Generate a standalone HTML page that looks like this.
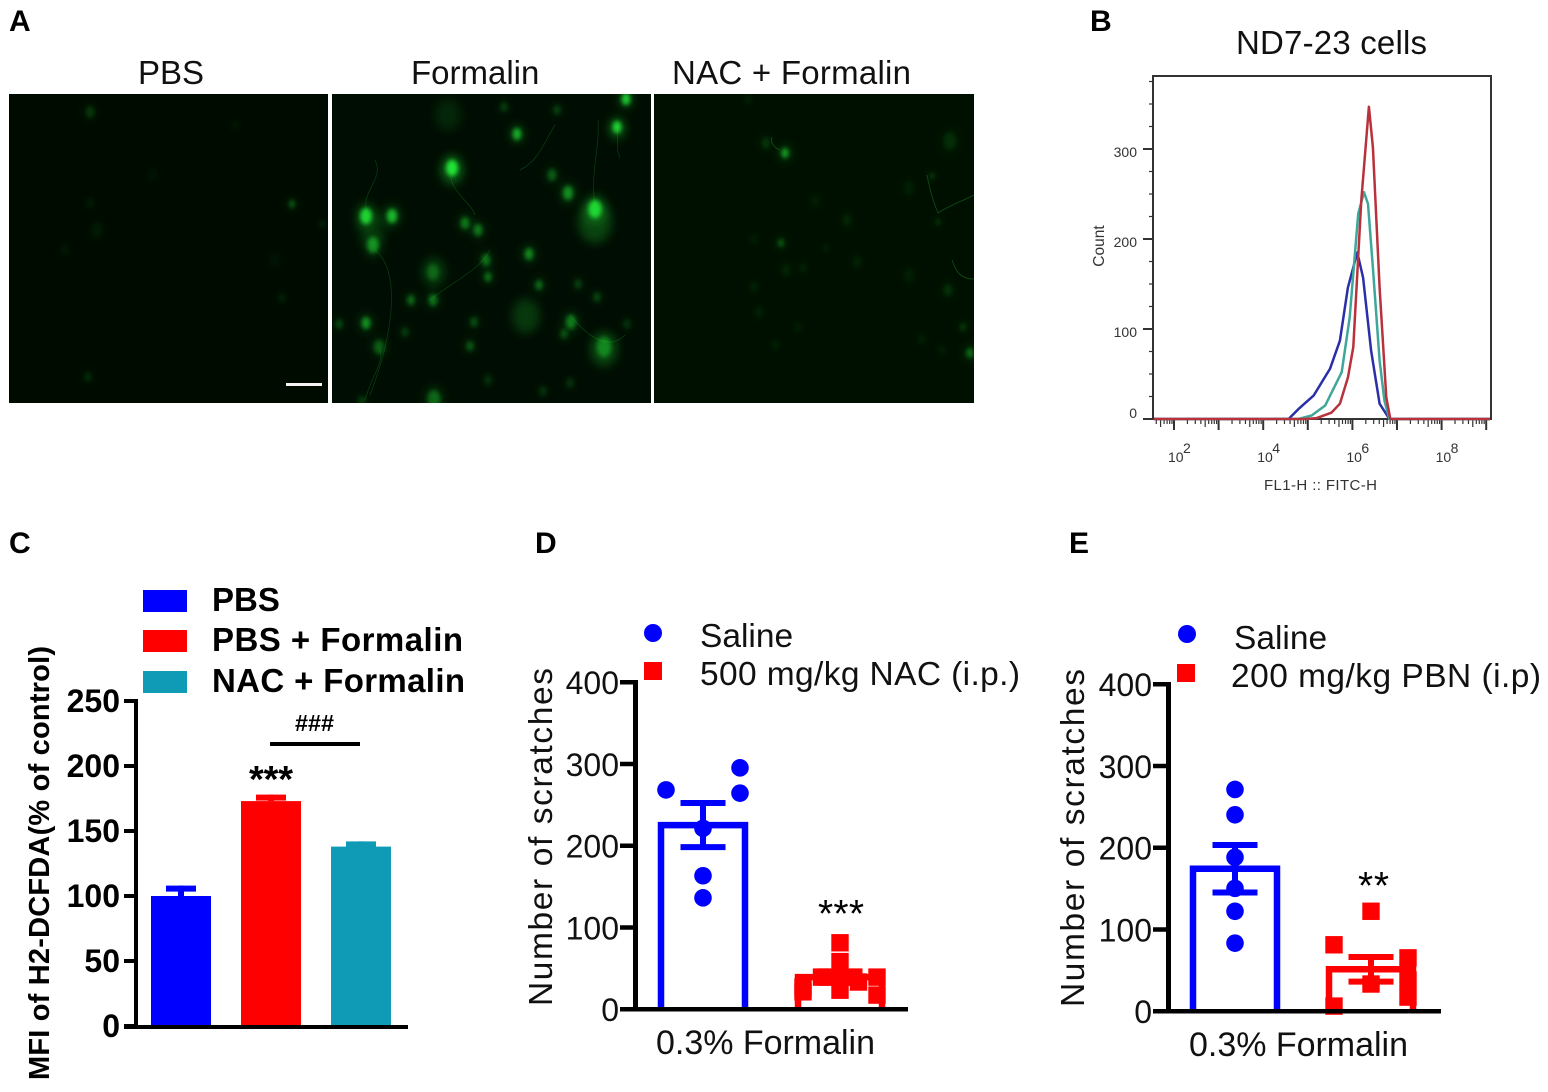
<!DOCTYPE html>
<html lang="en">
<head>
<meta charset="utf-8">
<title>Formalin ROS figure</title>
<style>
html,body{margin:0;padding:0;background:#fff;}
svg{display:block;}
text{font-family:"Liberation Sans",sans-serif;fill:#111;}
.letter{font-size:30px;font-weight:bold;fill:#000;}
.title{font-size:33px;}
.bold{font-weight:bold;fill:#000;}
.tickC{font-size:32px;font-weight:bold;fill:#000;text-anchor:end;}
.tickN{font-size:32px;text-anchor:end;}
.flow{fill:#333;}
</style>
</head>
<body>
<svg id="fig" xmlns="http://www.w3.org/2000/svg" width="1548" height="1092" viewBox="0 0 1548 1092">
<defs>
<filter id="blurCore" x="-100%" y="-100%" width="300%" height="300%"><feGaussianBlur stdDeviation="2.1"/></filter>
<filter id="blurHalo" x="-150%" y="-150%" width="400%" height="400%"><feGaussianBlur stdDeviation="5"/></filter>
<clipPath id="clipP1"><rect x="9" y="94" width="319" height="309"/></clipPath>
<clipPath id="clipP2"><rect x="332" y="94" width="319" height="309"/></clipPath>
<clipPath id="clipP3"><rect x="654" y="94" width="320" height="309"/></clipPath>
</defs>

<text class="letter" x="9" y="31">A</text>
<text class="letter" x="1090" y="31">B</text>
<text class="letter" x="9" y="553">C</text>
<text class="letter" x="535" y="553">D</text>
<text class="letter" x="1069" y="553">E</text>

<g>
<text class="title" x="138" y="84">PBS</text>
<text class="title" x="411" y="84">Formalin</text>
<text class="title" x="672" y="84" textLength="239">NAC + Formalin</text>
<rect x="9" y="94" width="319" height="309" fill="#000b00"/>
<rect x="332" y="94" width="319" height="309" fill="#000d02"/>
<rect x="654" y="94" width="320" height="309" fill="#001000"/>
<g id="cellsP1" clip-path="url(#clipP1)"></g>
<g id="cellsP2" clip-path="url(#clipP2)">
<g fill="none" stroke="#1f9a2a" stroke-width="0.7" opacity="0.35">
<path d="M452 166 C445 190 470 200 475 215"/>
<path d="M367 213 C360 190 385 180 375 160"/>
<path d="M595 207 C590 170 600 150 598 120"/>
<path d="M617 126 C618 140 616 150 620 158"/>
<path d="M375 250 C400 270 395 330 370 395"/>
<path d="M430 300 C455 280 480 270 490 250"/>
<path d="M570 315 C590 340 610 350 625 335"/>
<path d="M380 350 C385 360 370 380 365 400"/>
<path d="M520 170 C540 160 545 140 555 125"/>
</g>
</g>
<g id="cellsP3" clip-path="url(#clipP3)">
<g fill="none" stroke="#2aa838" stroke-width="0.8" opacity="0.4">
<path d="M952 260 C955 268 958 279 974 279"/>
<path d="M927 175 C932 200 935 205 938 213 C950 205 965 200 974 195"/>
<path d="M772 137 C770 142 774 148 780 150"/>
</g>
</g>
<rect x="286" y="383" width="36" height="3" fill="#f4f4f4"/>
</g>

<g>
<text class="title" x="1236" y="54" textLength="191">ND7-23 cells</text>
<rect x="1153" y="76" width="338" height="343" fill="#fff" stroke="#333" stroke-width="2"/>
<g id="flowAxes"></g>
<g id="flowLines"></g>
<text class="flow" x="1104" y="246" font-size="15.5" text-anchor="middle" transform="rotate(-90 1104 246)">Count</text>
<text class="flow" x="1264" y="490" font-size="15" textLength="113">FL1-H :: FITC-H</text>
</g>

<g id="panelC">
<text class="bold" x="49" y="1080" font-size="29" textLength="434" transform="rotate(-90 49 1080)">MFI of H2-DCFDA(% of control)</text>
<rect x="143" y="590" width="44" height="22" fill="#0000ff"/>
<rect x="143" y="630" width="44" height="22" fill="#ff0000"/>
<rect x="143" y="671" width="44" height="22" fill="#0f9ab5"/>
<text class="bold" x="212" y="611" font-size="33">PBS</text>
<text class="bold" x="212" y="651" font-size="33" textLength="251">PBS + Formalin</text>
<text class="bold" x="212" y="692" font-size="33" textLength="253">NAC + Formalin</text>
<text class="bold" x="295" y="731" font-size="23" textLength="39" lengthAdjust="spacingAndGlyphs">###</text>
<rect x="270" y="742" width="90" height="4" fill="#000"/>
<text class="bold" x="249" y="792" font-size="38" textLength="44">***</text>
</g>

<g id="panelD">
<circle cx="653" cy="633" r="9" fill="#0000ff"/>
<rect x="644" y="662" width="18" height="18" fill="#ff0000"/>
<text x="700" y="647" font-size="33.5">Saline</text>
<text x="700" y="685" font-size="33.5" textLength="320">500 mg/kg NAC (i.p.)</text>
<text x="552" y="1006" font-size="33.5" textLength="338" transform="rotate(-90 552 1006)">Number of scratches</text>
<text x="656" y="1054" font-size="34" textLength="219">0.3% Formalin</text>
<text x="818" y="927" font-size="39" textLength="46" style="fill:#000">***</text>
</g>

<g id="panelE">
<circle cx="1187" cy="634" r="9" fill="#0000ff"/>
<rect x="1177" y="664" width="18" height="18" fill="#ff0000"/>
<text x="1234" y="649" font-size="33.5">Saline</text>
<text x="1231" y="687" font-size="33.5" textLength="310">200 mg/kg PBN (i.p)</text>
<text x="1084" y="1007" font-size="33.5" textLength="338" transform="rotate(-90 1084 1007)">Number of scratches</text>
<text x="1189" y="1056" font-size="34" textLength="219">0.3% Formalin</text>
<text x="1358" y="899" font-size="39" textLength="31" style="fill:#000">**</text>
</g>
</svg>

<script>
// Panel B: flow cytometry histogram
const flowYTicks = [0, 100, 200, 300];
const flowXDecades = [2, 4, 6, 8];
const flowBlueLog = [4.57,4.79,5.13,5.50,5.72,5.90,6.11,6.24,6.42,6.61,6.83];
const flowBlueCount = [0,11,26,56,87,146,185,157,76,17,0];
const flowTealLog = [4.79,5.09,5.39,5.57,5.76,5.94,6.13,6.26,6.35,6.46,6.61,6.72,6.83];
const flowTealCount = [0,4,15,33,52,113,228,252,239,168,65,20,0];
const flowRedLog = [4.94,5.20,5.53,5.72,5.90,6.02,6.20,6.37,6.46,6.61,6.76,6.85];
const flowRedCount = [0,1,7,17,46,80,243,347,302,146,24,0];

// Panel C: bars
const cCategories = ['pbs', 'pbs-formalin', 'nac-formalin'];
const cMeans = [100, 173, 138];
const cSem = [8, 5, 4];
const cTicks = [0, 50, 100, 150, 200, 250];

// Panel D
const dTicks = [0, 100, 200, 300, 400];
const dSalineMean = 225;
const dSalineSem = 27;
const dSalineValues = [295, 264, 268, 221, 163, 136];
const dSalineColumns = [2, 2, -2, 0, 0, 0];
const dNacMean = 39;
const dNacSem = 7;
const dNacValues = [81, 58, 23, 39, 33, 27, 21, 39, 17];
const dNacColumns = [0, 0, 0, -1, 1, -2, -2, 2, 2];

// Panel E
const eTicks = [0, 100, 200, 300, 400];
const eSalineMean = 174;
const eSalineSem = 29;
const eSalineValues = [271, 240, 188, 150, 122, 83];
const eSalineColumns = [0, 0, 0, 0, 0, 0];
const ePbnMean = 51;
const ePbnSem = 15;
const ePbnValues = [122, 81, 65, 33, 38, 17, 6];
const ePbnColumns = [0, -2, 2, 0, 2, 2, -2];

// Micrograph blobs: x, y, radius, brightness
const cellsP1 = [[90,112,6,.16],[292,204,4,.32],[322,224,3,.14],[88,377,5,.12],[282,298,5,.08],[97,230,8,.05],[65,250,6,.04],[90,203,5,.06],[235,125,5,.04],[153,175,7,.025],[275,260,8,.025]];
const cellsP2 = [[452,168,8,.95],[366,216,8,.85],[392,216,7,.7],[373,245,8,.5],[595,209,9,.85],[517,134,6,.65],[617,127,6,.85],[626,99,6,.8],[568,193,7,.5],[552,175,6,.3],[465,223,6,.42],[478,230,6,.42],[529,254,6,.48],[486,260,6,.38],[488,277,5,.38],[539,285,5,.38],[578,284,5,.2],[597,297,5,.22],[433,272,8,.25],[411,300,5,.38],[433,300,6,.38],[366,323,6,.52],[339,324,5,.22],[474,322,5,.26],[405,332,5,.18],[379,347,7,.3],[470,346,5,.3],[571,322,7,.42],[564,334,5,.26],[604,347,10,.38],[434,399,9,.33],[557,110,5,.2],[504,107,5,.18],[627,324,5,.14],[362,401,5,.18],[543,391,5,.14],[570,383,5,.14],[488,380,5,.14]];
const cellHaloP2 = [[595,222,17,.3],[526,316,14,.24],[448,115,13,.14],[434,272,12,.18],[372,228,14,.16],[604,350,14,.22],[452,172,12,.2],[617,130,9,.16]];
const cellsP3 = [[785,153,5,.6],[766,143,6,.13],[781,243,4,.32],[932,176,3,.24],[938,222,3,.2],[950,141,9,.1],[847,220,6,.08],[815,201,6,.05],[754,239,5,.05],[786,270,6,.07],[803,268,6,.05],[754,287,5,.07],[759,312,6,.05],[798,327,5,.05],[857,262,6,.06],[909,188,7,.05],[909,275,7,.05],[948,290,6,.12],[963,327,4,.18],[970,353,5,.38],[922,339,5,.06],[826,248,3,.1],[748,99,4,.08],[775,345,4,.08],[942,350,5,.05]];

const NS = 'http://www.w3.org/2000/svg';
const fig = document.getElementById('fig');

function mk(parent, tag, props) {
  const el = document.createElementNS(NS, tag);
  Object.keys(props).forEach(function (k) { el.setAttribute(k, props[k]); });
  parent.appendChild(el);
  return el;
}

// ---------- micrographs ----------
function drawCells(groupId, cells, halos, prefix) {
  const g = document.getElementById(groupId);
  halos.forEach(function (c, i) {
    const halo = mk(g, 'ellipse', {cx: c[0], cy: c[1], rx: c[2], ry: c[2] * 1.25, fill: '#22c030', opacity: c[3], filter: 'url(#blurHalo)'});
    
    
  });
  cells.forEach(function (c, i) {
    const glow = mk(g, 'ellipse', {cx: c[0], cy: c[1], rx: c[2] * 1.2, ry: c[2] * 1.6, fill: '#1fc02c', opacity: c[3] * 0.4, filter: 'url(#blurHalo)'});
    
    
    const core = mk(g, 'ellipse', {cx: c[0], cy: c[1], rx: c[2] * 0.72, ry: c[2], fill: '#22ea38', opacity: c[3], filter: 'url(#blurCore)'});
    
    
  });
}
drawCells('cellsP1', cellsP1, [], 'cell-pbs');
drawCells('cellsP2', cellsP2, cellHaloP2, 'cell-formalin');
drawCells('cellsP3', cellsP3, [], 'cell-nac');

// ---------- panel B ----------
function flowX(logValue) { return 1174 + (logValue - 2) * 44.6; }
function flowY(count) { return 419 - count * 0.9; }

(function drawFlow() {
  const axes = document.getElementById('flowAxes');
  for (let c = 0; c <= 375; c += 25) {
    const major = c % 100 === 0;
    const t = mk(axes, 'line', {x1: major ? 1143 : 1149, x2: 1153, y1: flowY(c), y2: flowY(c), stroke: '#333', 'stroke-width': major ? 2 : 1.2});
    
    
  }
  flowYTicks.forEach(function (c) {
    const l = mk(axes, 'text', {x: 1137, y: flowY(c) + (c === 0 ? -1 : 8), 'font-size': 14, 'text-anchor': 'end', class: 'flow'});
    l.textContent = c;
    
    
  });
  for (let d = 1; d <= 9; d++) {
    for (let m = 1; m <= 9; m++) {
      const lx = d + Math.log10(m);
      const px = flowX(lx);
      if (px < 1155 || px > 1490) continue;
      const big = m === 1;
      const t = mk(axes, 'line', {x1: px, x2: px, y1: 419, y2: big ? 430 : (m === 5 ? 427 : 424), stroke: '#333', 'stroke-width': big ? 2 : 1.2});
      
      
    }
  }
  flowXDecades.forEach(function (d) {
    const base = mk(axes, 'text', {x: flowX(d) - 6, y: 462, 'font-size': 14, class: 'flow'});
    base.textContent = '10';
    
    
    const sup = mk(axes, 'text', {x: flowX(d) + 9, y: 453, 'font-size': 14, class: 'flow'});
    sup.textContent = d;
    
    
  });
  const lines = document.getElementById('flowLines');
  function curve(xs, ys, color, name) {
    const pts = ['1154,' + flowY(0)];
    xs.forEach(function (x, i) { pts.push(flowX(x).toFixed(1) + ',' + flowY(ys[i]).toFixed(1)); });
    pts.push('1490,' + flowY(0));
    const p = mk(lines, 'polyline', {points: pts.join(' '), fill: 'none', stroke: color, 'stroke-width': 2.5, 'stroke-linejoin': 'round'});
    
    
  }
  curve(flowBlueLog, flowBlueCount, '#2a2fa8', 'flow-line-control');
  curve(flowTealLog, flowTealCount, '#3fa79a', 'flow-line-middle');
  curve(flowRedLog, flowRedCount, '#b8323c', 'flow-line-high');
})();

// ---------- panel C ----------
function cY(v) { return 1026 - v * 1.3; }
function cX(i) { return 181 + i * 90; }
const cColors = ['#0000ff', '#ff0000', '#0f9ab5'];

(function drawC() {
  const g = document.getElementById('panelC');
  cCategories.forEach(function (cat, i) {
    const stem = mk(g, 'rect', {x: cX(i) - 3, y: cY(cMeans[i] + cSem[i]), width: 6, height: cY(cMeans[i]) - cY(cMeans[i] + cSem[i]), fill: cColors[i]});
    
    
    const cap = mk(g, 'rect', {x: cX(i) - 15, y: cY(cMeans[i] + cSem[i]), width: 30, height: 6, fill: cColors[i]});
    
    
    const bar = mk(g, 'rect', {x: cX(i) - 30, y: cY(cMeans[i]), width: 60, height: cY(0) - cY(cMeans[i]), fill: cColors[i]});
    
    
  });
  const yAxis = mk(g, 'rect', {x: 134, y: cY(250) - 2, width: 4, height: cY(0) - cY(250) + 4, fill: '#000'});
  
  
  const xAxis = mk(g, 'rect', {x: 124, y: cY(0) - 1, width: 284, height: 4, fill: '#000'});
  
  
  cTicks.forEach(function (t) {
    const tick = mk(g, 'rect', {x: 124, y: cY(t) - 2, width: 12, height: 4, fill: '#000'});
    
    
    const label = mk(g, 'text', {x: 120, y: cY(t) + 11, class: 'tickC'});
    label.textContent = t;
    
    
  });
})();

// ---------- panels D & E ----------
function scatterPanel(groupId, prefix, axisX, zeroY, ticks, center1, center2, mean1, sem1, vals1, cols1, mean2, sem2, vals2, cols2) {
  const g = document.getElementById(groupId);
  const y = function (v) { return zeroY - v * 0.8175; };
  const col = function (center, c) { return center + c * 18.5; };

  function barGroup(center, mean, sem, color, name) {
    const l = center - 42;
    const r = center + 42;
    const outline = mk(g, 'path', {d: 'M' + l + ' ' + zeroY + 'V' + y(mean) + 'H' + r + 'V' + zeroY, fill: 'none', stroke: color, 'stroke-width': 6.5});
    
    
    const stem = mk(g, 'line', {x1: center, x2: center, y1: y(mean + sem), y2: y(mean - sem), stroke: color, 'stroke-width': 6});
    
    
    [mean + sem, mean - sem].forEach(function (v) {
      const cap = mk(g, 'line', {x1: center - 22.5, x2: center + 22.5, y1: y(v), y2: y(v), stroke: color, 'stroke-width': 6});
      
      
    });
  }
  barGroup(center1, mean1, sem1, '#0000ff', 'saline');
  barGroup(center2, mean2, sem2, '#ff0000', 'treatment');

  vals1.forEach(function (v, i) {
    const pt = mk(g, 'circle', {cx: col(center1, cols1[i]), cy: y(v), r: 8.8, fill: '#0000ff'});
    
    
  });
  vals2.forEach(function (v, i) {
    const pt = mk(g, 'rect', {x: col(center2, cols2[i]) - 8.7, y: y(v) - 8.7, width: 17.4, height: 17.4, fill: '#ff0000'});
    
    
  });

  const yAxis = mk(g, 'rect', {x: axisX - 2, y: y(400) - 2, width: 5, height: zeroY - y(400) + 4, fill: '#000'});
  
  
  const xAxis = mk(g, 'rect', {x: axisX - 15, y: zeroY - 2, width: 288, height: 4.5, fill: '#000'});
  
  
  ticks.forEach(function (t) {
    const tick = mk(g, 'rect', {x: axisX - 15, y: y(t) - 2, width: 15, height: 4.5, fill: '#000'});
    
    
    const label = mk(g, 'text', {x: axisX - 16, y: y(t) + 12, class: 'tickN'});
    label.textContent = t;
    
    
  });
}
scatterPanel('panelD', 'd', 635, 1009, dTicks, 703, 840, dSalineMean, dSalineSem, dSalineValues, dSalineColumns, dNacMean, dNacSem, dNacValues, dNacColumns);
scatterPanel('panelE', 'e', 1168, 1011, eTicks, 1235, 1371, eSalineMean, eSalineSem, eSalineValues, eSalineColumns, ePbnMean, ePbnSem, ePbnValues, ePbnColumns);
</script>
</body>
</html>
